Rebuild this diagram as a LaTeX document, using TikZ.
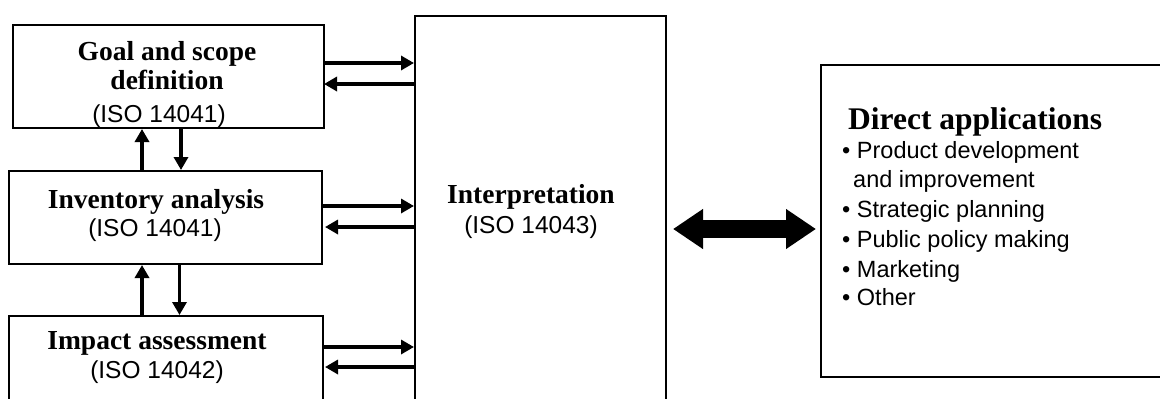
\documentclass[tikz,border=0pt]{standalone}
\usepackage{fontspec}
\setmainfont{Liberation Serif}
\newfontfamily\arsans{Liberation Sans}
\usetikzlibrary{arrows.meta}

\tikzset{
  box/.style={draw, line width=2pt, inner sep=0pt, fill=white},
  head/.style={font=\fontsize{27.5}{31}\selectfont\bfseries, inner sep=0pt, anchor=base},
  iso/.style={font=\arsans\fontsize{24.5}{29}\selectfont, inner sep=0pt, anchor=base},
  item/.style={font=\arsans\fontsize{23.5}{29}\selectfont, inner sep=0pt, anchor=base west},
  arr/.style={line width=3.6pt, -{Triangle[length=13pt,width=14pt]}},
  bigarr/.style={line width=18pt, {Triangle[length=30pt,width=38pt]}-{Triangle[length=30pt,width=38pt]}}
}

\begin{document}
\begin{tikzpicture}[x=1pt, y=-1pt]
\useasboundingbox (0,0) rectangle (1160,399);
\clip (0,0) rectangle (1160,399);

% boxes of the four phases
\node[box, minimum width=311pt, minimum height=103pt] (goal)   at (168.5,76.5) {};
\node[box, minimum width=313pt, minimum height=93pt]  (inv)    at (165.5,217.5) {};
\node[box, minimum width=314pt, minimum height=104pt] (impact) at (166,368) {};
\node[box, minimum width=251pt, minimum height=404pt] (interp) at (540.5,218) {};

% applications box
\node[box, minimum width=354pt, minimum height=312pt] (direct) at (998,221) {};

% phase labels
\node[head] (goalA) at (167,60)  {Goal and scope};
\node[head] (goalB) at (167,89)  {definition};
\node[iso]  (goalC) at (159,122) {(ISO 14041)};

\node[head] (invA) at (156,208) {Inventory analysis};
\node[iso]  (invB) at (155,236) {(ISO 14041)};

\node[head] (impA) at (157,349) {Impact assessment};
\node[iso]  (impB) at (157,378) {(ISO 14042)};

\node[head] (intA) at (531,203) {Interpretation};
\node[iso]  (intB) at (531,233) {(ISO 14043)};

% applications list
\node[font=\fontsize{31.5}{35}\selectfont\bfseries, inner sep=0pt, anchor=base west] (dirT) at (848,129) {Direct applications};
\node[item] (d1) at (842,158) {\textbullet\ Product development};
\node[item] (d2) at (853,187) {and improvement};
\node[item] (d3) at (842,217) {\textbullet\ Strategic planning};
\node[item] (d4) at (842,247) {\textbullet\ Public policy making};
\node[item] (d5) at (842,277) {\textbullet\ Marketing};
\node[item] (d6) at (842,305) {\textbullet\ Other};

% vertical links between phases
\draw[arr] ([xshift=-23.5pt]inv.north) -- ([xshift=-23.5pt]inv.north |- goal.south);
\draw[arr] ([xshift=12.5pt]goal.south) -- ([xshift=12.5pt]goal.south |- inv.north);
\draw[arr] ([xshift=-24pt]impact.north) -- ([xshift=-24pt]impact.north |- inv.south);
\draw[arr] ([xshift=14pt]inv.south) -- ([xshift=14pt]inv.south |- impact.north);

% links to and from interpretation
\draw[arr] ([xshift=-2pt,yshift=13.5pt]goal.east) -- ([yshift=13.5pt]goal.east -| interp.west);
\draw[arr] ([yshift=-7.5pt]goal.east -| interp.west) -- ([xshift=-1pt,yshift=-7.5pt]goal.east);
\draw[arr] ([xshift=-1pt,yshift=11.5pt]inv.east) -- ([yshift=11.5pt]inv.east -| interp.west);
\draw[arr] ([yshift=-9.5pt]inv.east -| interp.west) -- ([xshift=2pt,yshift=-9.5pt]inv.east);
\draw[arr] ([yshift=-32pt]impact.north east) -- ([yshift=-32pt]impact.north east -| interp.west);
\draw[arr] ([yshift=-52pt]impact.north east -| interp.west) -- ([xshift=1pt,yshift=-52pt]impact.north east);

% two-way link to the applications
\draw[bigarr] ([xshift=6pt,yshift=-11pt]interp.east) -- ([xshift=-4pt,yshift=-11pt]interp.east -| direct.west);
\end{tikzpicture}
\end{document}
